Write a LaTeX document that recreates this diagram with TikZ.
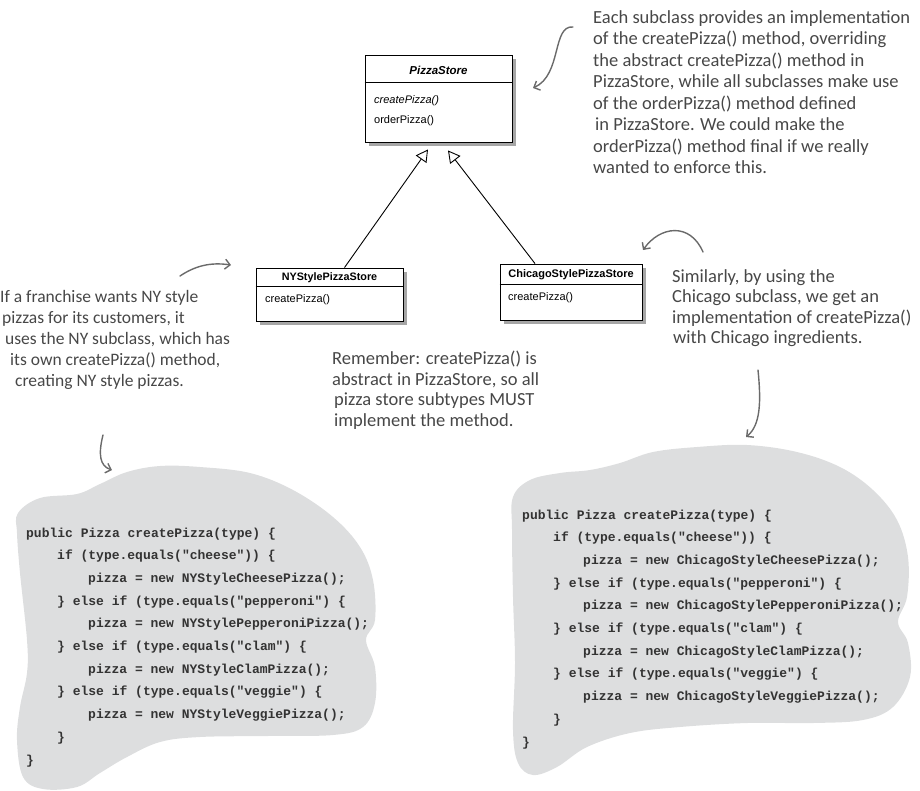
\documentclass[tikz,border=0pt]{standalone}
\usepackage{fontspec}
\setmainfont{Liberation Sans}
\newfontfamily\handfont{Carlito}
\newfontfamily\codefont{Liberation Mono}[Ligatures=TeXOff]
\usetikzlibrary{arrows.meta,shadows}
\definecolor{blobgray}{HTML}{DDDEDF}
\definecolor{handgray}{HTML}{474747}
\definecolor{codegray}{HTML}{333333}
\definecolor{arrowgray}{HTML}{6A6A6A}
\begin{document}
\begin{tikzpicture}[x=1pt,y=-1pt,
  umlbox/.style={draw=black, line width=0.9pt, fill=white, inner sep=0pt,
    drop shadow={shadow xshift=4pt, shadow yshift=-4pt, opacity=0.35, fill=black}},
  hand/.style={font=\handfont\fontsize{18.5}{20}\selectfont, text=handgray, anchor=base west, inner sep=0pt},
  handsm/.style={hand, font=\handfont\fontsize{17.5}{20}\selectfont},
  code/.style={font=\codefont\bfseries\fontsize{13}{15}\selectfont, text=codegray, anchor=base west, inner sep=0pt},
  umltxt/.style={font=\fontsize{11}{13}\selectfont, inner sep=0pt},
  inh/.style={line width=0.9pt, -{Triangle[open, length=12pt, width=13pt, line width=0.9pt]}},
  harrow/.style={draw=arrowgray, line width=1.4pt, line cap=round, -{Straight Barb[length=5pt,width=10pt]}},
  blob/.style={fill=blobgray, draw=none},
]
\useasboundingbox (0,0) rectangle (920,790);

% ---------- blobs ----------
\fill[blob] plot[smooth cycle, tension=0.6] coordinates {
  (18,513) (40,498) (77,494) (100,484) (127,472) (160,466) (200,467) (250,473)
  (293,490) (333,517) (360,547) (373,580) (375,620) (366,640) (375,667) (375,703)
  (363,727) (333,735) (267,736) (200,737) (160,742) (127,757) (100,773) (77,787)
  (43,789) (23,777) (17,740) (20,707) (27,673) (27,640) (20,573) (17,533)};
\fill[blob] plot[smooth cycle, tension=0.6] coordinates {
  (513,497) (530,480) (560,473) (590,470) (620,463) (653,452) (697,447) (747,445)
  (797,452) (840,467) (873,490) (897,520) (908,557) (907,597) (898,622) (908,643)
  (910,677) (893,707) (863,720) (813,723) (747,723) (680,727) (630,733) (587,747)
  (557,767) (533,775) (518,763) (513,730) (515,663) (513,597) (512,530)};

% ---------- UML classes ----------
\node[umlbox, minimum width=147pt, minimum height=87pt] (ps) at (438.5,98.5) {};
\draw[line width=0.9pt] ([yshift=-28pt]ps.north west) -- ([yshift=-28pt]ps.north east);
\node[umltxt, font=\bfseries\itshape\fontsize{11.5}{13}\selectfont] (psname) at (438.5,70) {PizzaStore};
\node[umltxt, font=\itshape\fontsize{11}{13}\selectfont, anchor=west] (psm1) at (374,101) {createPizza()};
\node[umltxt, anchor=west] (psm2) at (374,121) {orderPizza()};

\node[umlbox, minimum width=147pt, minimum height=53pt] (ny) at (329.5,294.5) {};
\draw[line width=0.9pt] ([yshift=-19pt]ny.north west) -- ([yshift=-19pt]ny.north east);
\node[umltxt, font=\bfseries\fontsize{10.8}{13}\selectfont] (nyname) at (329.5,278) {NYStylePizzaStore};
\node[umltxt, anchor=west] (nym1) at (265,300) {createPizza()};

\node[umlbox, minimum width=142pt, minimum height=56pt] (ch) at (571,292) {};
\draw[line width=0.9pt] ([yshift=-21pt]ch.north west) -- ([yshift=-21pt]ch.north east);
\node[umltxt, font=\bfseries\fontsize{11}{13}\selectfont] (chname) at (571,275) {ChicagoStylePizzaStore};
\node[umltxt, anchor=west] (chm1) at (508,298) {createPizza()};

% inheritance
\draw[inh] ([xshift=15pt]ny.north) -- ([xshift=-10.5pt,yshift=-7pt]ps.south);
\draw[inh] ([xshift=-36pt]ch.north) -- ([xshift=9.5pt,yshift=-8pt]ps.south);

% ---------- handwritten notes ----------
\node[hand] (t1) at (593,23) {Each subclass provides an implementation};
\node[hand] (t2) at (593,44.5) {of the createPizza() method, overriding};
\node[hand] (t3) at (593,66) {the abstract createPizza() method in};
\node[hand] (t4) at (593,87.5) {PizzaStore, while all subclasses make use};
\node[hand] (t5) at (593,109) {of the orderPizza() method defined};
\node[hand] (t6) at (595,130.5) {in PizzaStore. We could make the};
\node[hand] (t7) at (593,152) {orderPizza() method final if we really};
\node[hand] (t8) at (593,173.5) {wanted to enforce this.};

\node[hand] (m1) at (332,364) {Remember: createPizza() is};
\node[hand] (m2) at (332,385) {abstract in PizzaStore, so all};
\node[hand] (m3) at (334,405.5) {pizza store subtypes MUST};
\node[hand] (m4) at (334,426) {implement the method.};

\node[hand] (s1) at (672,282) {Similarly, by using the};
\node[hand] (s2) at (672,302.5) {Chicago subclass, we get an};
\node[hand] (s3) at (672,323) {implementation of createPizza()};
\node[hand] (s4) at (673,343.5) {with Chicago ingredients.};

\node[handsm] (f1) at (0,302) {If a franchise wants NY style};
\node[handsm] (f2) at (2,323) {pizzas for its customers, it};
\node[handsm] (f3) at (5,344) {uses the NY subclass, which has};
\node[handsm] (f4) at (10,365) {its own createPizza() method,};
\node[handsm] (f5) at (15,386) {creating NY style pizzas.};

% ---------- hand-drawn arrows ----------
\coordinate (a1s) at (573,27);  \coordinate (a1e) at (533,88);
\coordinate (a2s) at (703,252); \coordinate (a2e) at (643,250);
\coordinate (a3s) at (758,370); \coordinate (a3e) at (746,437);
\coordinate (a4s) at (180,276); \coordinate (a4e) at (231,265);
\coordinate (a5s) at (103,435); \coordinate (a5e) at (112,470);
\draw[harrow] (a1s) .. controls (552,25) and (562,75) .. (a1e);
\draw[harrow] (a2s) .. controls (690,222) and (660,226) .. (a2e);
\draw[harrow] (a3s) .. controls (761,400) and (761,425) .. (a3e);
\draw[harrow] (a4s) .. controls (195,266) and (210,262) .. (a4e);
\draw[harrow] (a5s) .. controls (98,455) and (100,466) .. (a5e);

% ---------- code ----------
\node[code] (l1) at (26,537) {public Pizza createPizza(type) \{};
\node[code] (l2) at (57,559.7) {if (type.equals("cheese")) \{};
\node[code] (l3) at (88,582.4) {pizza = new NYStyleCheesePizza();};
\node[code] (l4) at (57,605.1) {\} else if (type.equals("pepperoni") \{};
\node[code] (l5) at (88,627.8) {pizza = new NYStylePepperoniPizza();};
\node[code] (l6) at (57,650.5) {\} else if (type.equals("clam") \{};
\node[code] (l7) at (88,673.2) {pizza = new NYStyleClamPizza();};
\node[code] (l8) at (57,695.9) {\} else if (type.equals("veggie") \{};
\node[code] (l9) at (88,718.6) {pizza = new NYStyleVeggiePizza();};
\node[code] (l10) at (57,741.3) {\}};
\node[code] (l11) at (26,764) {\}};

\node[code] (r1) at (522,519) {public Pizza createPizza(type) \{};
\node[code] (r2) at (553,541.7) {if (type.equals("cheese")) \{};
\node[code] (r3) at (583,564.4) {pizza = new ChicagoStyleCheesePizza();};
\node[code] (r4) at (553,587.1) {\} else if (type.equals("pepperoni") \{};
\node[code] (r5) at (583,609.8) {pizza = new ChicagoStylePepperoniPizza();};
\node[code] (r6) at (553,632.5) {\} else if (type.equals("clam") \{};
\node[code] (r7) at (583,655.2) {pizza = new ChicagoStyleClamPizza();};
\node[code] (r8) at (553,677.9) {\} else if (type.equals("veggie") \{};
\node[code] (r9) at (583,700.6) {pizza = new ChicagoStyleVeggiePizza();};
\node[code] (r10) at (553,723.3) {\}};
\node[code] (r11) at (522,746) {\}};
\end{tikzpicture}
\end{document}
